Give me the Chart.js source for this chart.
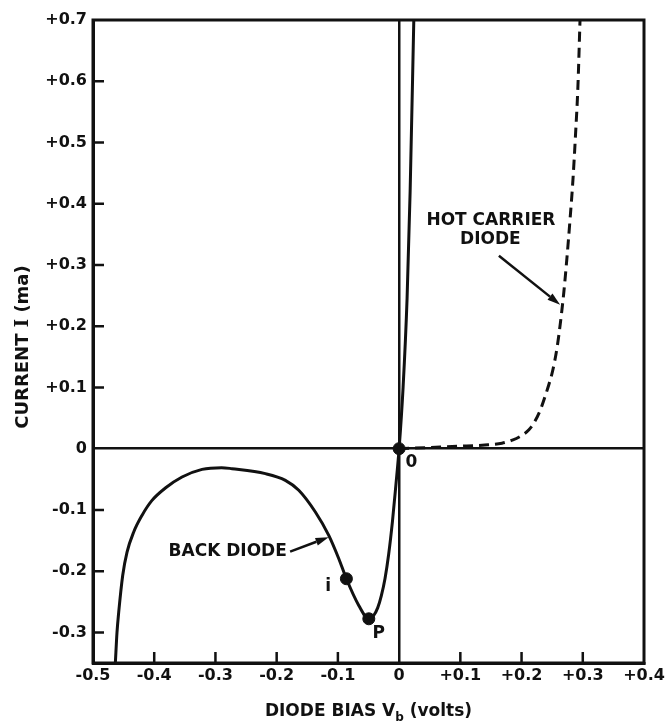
<!DOCTYPE html>
<html>
<head>
<meta charset="utf-8">
<script src="https://cdn.jsdelivr.net/npm/chart.js@4.4.1/dist/chart.umd.min.js"></script>
<style>
  html, body { margin: 0; padding: 0; background: #fff; }
  #wrap { width: 668px; height: 723px; position: relative; }
</style>
</head>
<body>
<div id="wrap"><canvas id="c"></canvas></div>
<script>
// Axis ranges and tick labels
const xMin = -0.5, xMax = 0.4;
const yMin = -0.35, yMax = 0.7;
const xTickValues = [-0.5, -0.4, -0.3, -0.2, -0.1, 0, 0.1, 0.2, 0.3, 0.4];
const xTickLabels = ['-0.5', '-0.4', '-0.3', '-0.2', '-0.1', '0', '+0.1', '+0.2', '+0.3', '+0.4'];
const yTickValues = [-0.3, -0.2, -0.1, 0, 0.1, 0.2, 0.3, 0.4, 0.5, 0.6, 0.7];
const yTickLabels = ['-0.3', '-0.2', '-0.1', '0', '+0.1', '+0.2', '+0.3', '+0.4', '+0.5', '+0.6', '+0.7'];

// Back diode characteristic: bias V (volts), current I (ma)
const backDiodeV = [-0.4635, -0.4608, -0.458, -0.4515, -0.4444, -0.4335, -0.42, -0.4036, -0.3818, -0.3546,
  -0.3219, -0.29, -0.2729, -0.2185, -0.1858, -0.1639, -0.1368, -0.1149, -0.0985, -0.0861,
  -0.0659, -0.0495, -0.042, -0.035, -0.029, -0.023, -0.017, -0.011, -0.0055, 0,
  0.0065, 0.013, 0.018, 0.024];
const backDiodeI = [-0.35, -0.30, -0.267, -0.207, -0.169, -0.136, -0.109, -0.0845, -0.0643, -0.0463,
  -0.0338, -0.031, -0.0327, -0.0408, -0.0517, -0.068, -0.1035, -0.1416, -0.1797, -0.2124,
  -0.256, -0.2778, -0.273, -0.260, -0.240, -0.212, -0.172, -0.12, -0.062, 0,
  0.1, 0.245, 0.42, 0.7];

// Hot carrier diode characteristic
const hotCarrierV = [0, 0.05, 0.10, 0.14, 0.168, 0.185, 0.201, 0.212, 0.222, 0.231, 0.239, 0.245,
  0.251, 0.258, 0.264, 0.269, 0.274, 0.279, 0.284, 0.288, 0.292, 0.2955];
const hotCarrierI = [0, 0.002, 0.004, 0.006, 0.009, 0.014, 0.022, 0.031, 0.045, 0.064, 0.087, 0.106,
  0.128, 0.165, 0.21, 0.255, 0.31, 0.372, 0.44, 0.51, 0.59, 0.70];

// Marked operating points on the back diode curve
const markerNames = ['0', 'P', 'i'];
const markerV = [0, -0.0495, -0.0861];
const markerI = [0, -0.2778, -0.2124];

const toPoints = (xs, ys) => xs.map((x, i) => ({ x: x, y: ys[i] }));

const INK = '#111';
const FONT = 'DejaVu Sans';

// Text notes and arrows, placed in data coordinates
const notes = [
  { text: 'HOT CARRIER', x: 0.150, y: 0.3725 },
  { text: 'DIODE', x: 0.149, y: 0.3415 },
  { text: 'BACK DIODE', x: -0.280, y: -0.168 },
  { text: markerNames[2], x: -0.116, y: -0.2255 },
  { text: markerNames[1], x: -0.0332, y: -0.302 },
  { text: markerNames[0], x: 0.0201, y: -0.022 }
];
const arrows = [
  { from: [0.163, 0.315], to: [0.263, 0.235] },
  { from: [-0.178, -0.168], to: [-0.1152, -0.1446] }
];

// Draws a run of text pieces, each with its own font and baseline shift
function drawRuns(ctx, runs, cx, baseY) {
  const widths = runs.map(r => { ctx.font = r.font; return ctx.measureText(r.text).width; });
  let tx = cx - widths.reduce((s, w) => s + w, 0) / 2;
  runs.forEach((r, i) => {
    ctx.font = r.font;
    ctx.fillText(r.text, tx, baseY + (r.dy || 0));
    tx += widths[i];
  });
}

const frame = {
  id: 'frame',
  afterDatasetsDraw(chart) {
    const { ctx, chartArea: a, scales: { x, y } } = chart;
    ctx.save();
    ctx.strokeStyle = INK;
    // inner tick marks
    ctx.lineWidth = 2.5;
    ctx.beginPath();
    xTickValues.forEach(v => {
      if (v === 0 || v === xMin || v === xMax) return;
      const px = x.getPixelForValue(v);
      ctx.moveTo(px, a.bottom);
      ctx.lineTo(px, a.bottom - 11);
    });
    yTickValues.forEach(v => {
      if (v === 0 || v === yMax) return;
      const py = y.getPixelForValue(v);
      ctx.moveTo(a.left, py);
      ctx.lineTo(a.left + 11, py);
    });
    ctx.stroke();
    // surrounding box
    ctx.lineWidth = 3;
    ctx.strokeRect(a.left, a.top, a.right - a.left, a.bottom - a.top);

    // notes
    ctx.fillStyle = INK;
    ctx.font = 'bold 17px "' + FONT + '"';
    ctx.textAlign = 'center';
    ctx.textBaseline = 'middle';
    notes.forEach(n => ctx.fillText(n.text, x.getPixelForValue(n.x), y.getPixelForValue(n.y)));

    // arrows
    arrows.forEach(ar => {
      const x0 = x.getPixelForValue(ar.from[0]), y0 = y.getPixelForValue(ar.from[1]);
      const x1 = x.getPixelForValue(ar.to[0]), y1 = y.getPixelForValue(ar.to[1]);
      const ang = Math.atan2(y1 - y0, x1 - x0);
      const hl = 13, hw = 4;
      const bx = x1 - hl * Math.cos(ang), by = y1 - hl * Math.sin(ang);
      ctx.lineWidth = 2.5;
      ctx.beginPath();
      ctx.moveTo(x0, y0);
      ctx.lineTo(bx, by);
      ctx.stroke();
      ctx.beginPath();
      ctx.moveTo(x1, y1);
      ctx.lineTo(bx + hw * Math.sin(ang), by - hw * Math.cos(ang));
      ctx.lineTo(bx - hw * Math.sin(ang), by + hw * Math.cos(ang));
      ctx.closePath();
      ctx.fill();
    });

    // axis titles
    ctx.textAlign = 'left';
    ctx.textBaseline = 'alphabetic';
    const big = 'bold 18px "' + FONT + '"';
    ctx.save();
    ctx.translate(28, 347);
    ctx.rotate(-Math.PI / 2);
    drawRuns(ctx, [
      { text: 'CURRENT ', font: big },
      { text: 'I', font: 'bold 18px "DejaVu Serif"' },
      { text: ' (ma)', font: big }
    ], 0, 0);
    ctx.restore();

    const bigX = 'bold 17px "' + FONT + '"';
    drawRuns(ctx, [
      { text: 'DIODE BIAS V', font: bigX },
      { text: 'b', font: 'bold 12px "' + FONT + '"', dy: 5 },
      { text: ' (volts)', font: bigX }
    ], (a.left + a.right) / 2, 716);
    ctx.restore();
  }
};

const zeroLine = ctx => (ctx.tick && Math.abs(ctx.tick.value) < 1e-9) ? INK : 'rgba(0,0,0,0)';

new Chart(document.getElementById('c'), {
  type: 'scatter',
  data: {
    datasets: [
      {
        label: 'BACK DIODE',
        data: toPoints(backDiodeV, backDiodeI),
        showLine: true,
        borderColor: INK,
        borderWidth: 3,
        pointRadius: 0,
        cubicInterpolationMode: 'monotone'
      },
      {
        label: 'HOT CARRIER DIODE',
        data: toPoints(hotCarrierV, hotCarrierI),
        showLine: true,
        borderColor: INK,
        borderWidth: 3,
        borderDash: [10, 6],
        pointRadius: 0,
        cubicInterpolationMode: 'monotone'
      },
      {
        label: 'points',
        data: toPoints(markerV, markerI),
        showLine: false,
        pointRadius: 6,
        pointBackgroundColor: INK,
        pointBorderColor: INK
      }
    ]
  },
  options: {
    responsive: true,
    maintainAspectRatio: false,
    animation: false,
    layout: { padding: { left: 0, right: 24, top: 20, bottom: 0 } },
    plugins: { legend: { display: false }, tooltip: { enabled: false } },
    scales: {
      x: {
        type: 'linear',
        min: xMin, max: xMax,
        afterBuildTicks: s => { s.ticks = xTickValues.map(v => ({ value: v })); },
        afterFit: s => { s.height = 60; },
        ticks: {
          autoSkip: false, maxRotation: 0, padding: 3,
          color: INK, font: { family: FONT, size: 16, weight: 'bold' },
          callback: (v, i) => xTickLabels[i]
        },
        grid: { drawTicks: false, color: zeroLine, lineWidth: 2.5 },
        border: { display: true, color: INK, width: 3 }
      },
      y: {
        type: 'linear',
        min: yMin, max: yMax,
        afterBuildTicks: s => { s.ticks = yTickValues.map(v => ({ value: v })); },
        afterFit: s => { s.width = 93; },
        ticks: {
          autoSkip: false, padding: 6,
          color: INK, font: { family: FONT, size: 16, weight: 'bold' },
          callback: (v, i) => yTickLabels[i]
        },
        grid: { drawTicks: false, color: zeroLine, lineWidth: 2.5 },
        border: { display: true, color: INK, width: 3 }
      }
    }
  },
  plugins: [frame]
});
</script>
</body>
</html>
